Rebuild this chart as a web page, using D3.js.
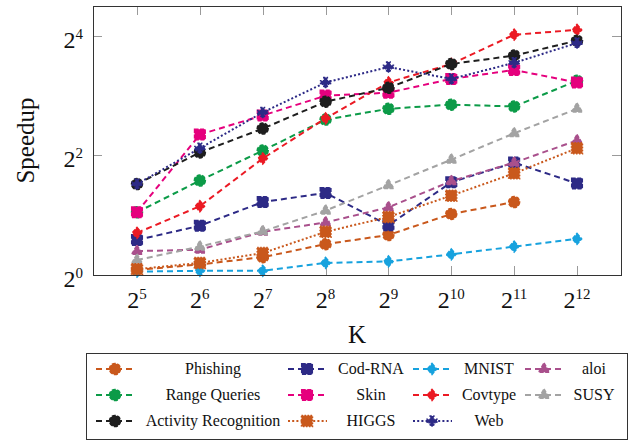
<!DOCTYPE html>
<html>
<head>
<meta charset="utf-8">
<script src="https://cdn.jsdelivr.net/npm/d3@7"></script>
<style>
  body { margin: 0; background: #fff; }
  text { font-family: "Liberation Serif", "Times New Roman", serif; fill: #111; }
</style>
</head>
<body>
<div></div>
<script>
var width = 639;
var height = 440;

// K values (2^5 .. 2^12)
var K = [32, 64, 128, 256, 512, 1024, 2048, 4096];
var xTickExp = [5, 6, 7, 8, 9, 10, 11, 12];
var yTickExp = [0, 2, 4];

// speedup values, one per K
var phishing = [1.06, 1.13, 1.23, 1.43, 1.59, 2.03, 2.33];
var codRna = [1.50, 1.77, 2.33, 2.59, 1.78, 2.93, 3.68, 2.89];
var mnist = [1.04, 1.05, 1.05, 1.15, 1.17, 1.27, 1.39, 1.52];
var aloi = [1.32, 1.34, 1.65, 1.84, 2.19, 2.97, 3.68, 4.76];
var rangeQueries = [2.07, 2.99, 4.23, 6.06, 6.87, 7.21, 7.06, 9.51];
var skin = [2.07, 5.10, 6.36, 8.00, 8.28, 9.71, 10.78, 9.32];
var covtype = [1.63, 2.22, 3.86, 6.15, 9.32, 11.55, 16.22, 17.15];
var susy = [1.19, 1.39, 1.66, 2.11, 2.83, 3.81, 5.17, 6.87];
var activity = [2.87, 4.14, 5.46, 7.46, 8.76, 11.55, 12.73, 15.14];
var higgs = [1.07, 1.15, 1.29, 1.65, 1.96, 2.51, 3.25, 4.35];
var web = [2.87, 4.35, 6.59, 9.32, 11.16, 9.71, 11.71, 14.72];

var orange = '#c9581c', navy = '#2d2a86', cyan = '#17a2de', mauve = '#a9508c',
    green = '#0c9b48', magenta = '#e5007d', red = '#eb1a24', gray = '#a3a3a3', black = '#1e1e1e';

var dashed = '6,4';
var dotted = '2,2.2';

var series = [
    { name: 'Phishing', values: phishing, color: orange, dash: dashed, mark: 'circle' },
    { name: 'Cod-RNA', values: codRna, color: navy, dash: dashed, mark: 'square' },
    { name: 'MNIST', values: mnist, color: cyan, dash: dashed, mark: 'diamond' },
    { name: 'aloi', values: aloi, color: mauve, dash: dashed, mark: 'triangle' },
    { name: 'Range Queries', values: rangeQueries, color: green, dash: dashed, mark: 'circle' },
    { name: 'Skin', values: skin, color: magenta, dash: dashed, mark: 'square' },
    { name: 'Covtype', values: covtype, color: red, dash: dashed, mark: 'diamond' },
    { name: 'SUSY', values: susy, color: gray, dash: dashed, mark: 'triangle' },
    { name: 'Activity Recognition', values: activity, color: black, dash: dashed, mark: 'circle' },
    { name: 'HIGGS', values: higgs, color: orange, dash: dotted, mark: 'blob' },
    { name: 'Web', values: web, color: navy, dash: dotted, mark: 'plus' }
];

var margin = { left: 93, right: 621, top: 6, bottom: 275 };

var svg = d3.select('div')
    .append('svg').attr('width', width).attr('height', height);

var x = d3.scaleLog().base(2)
    .domain([Math.pow(2, 4.3), Math.pow(2, 12.7)])
    .range([margin.left, margin.right]);
var y = d3.scaleLog().base(2)
    .domain([1, Math.pow(2, 4.5)])
    .range([margin.bottom, margin.top]);

function markPath(type) {
    var r;
    if (type === 'circle') {
        r = 5.5;
        return 'M' + r + ',0A' + r + ',' + r + ' 0 1,1 ' + (-r) + ',0A' + r + ',' + r + ' 0 1,1 ' + r + ',0Z';
    }
    if (type === 'square') { r = 5.3; return 'M' + -r + ',' + -r + 'H' + r + 'V' + r + 'H' + -r + 'Z'; }
    if (type === 'blob') { r = 5.5; return 'M' + -r + ',' + -r + 'H' + r + 'V' + r + 'H' + -r + 'Z'; }
    if (type === 'diamond') { r = 5.5; return 'M0,' + -r + 'L' + (r * 0.85) + ',0L0,' + r + 'L' + (-r * 0.85) + ',0Z'; }
    if (type === 'triangle') { r = 6; return 'M0,' + -r + 'L' + (r * 0.9) + ',' + (r * 0.55) + 'L' + (-r * 0.9) + ',' + (r * 0.55) + 'Z'; }
    // plus
    var a = 5, b = 1.8;
    return 'M' + -b + ',' + -a + 'H' + b + 'V' + -b + 'H' + a + 'V' + b + 'H' + b + 'V' + a +
        'H' + -b + 'V' + b + 'H' + -a + 'V' + -b + 'H' + -b + 'Z';
}

// ticks inside the frame
var tickLen = 9;
var ticks = svg.append('g').attr('stroke', '#9a9a9a').attr('stroke-width', 1);
xTickExp.forEach(function (e) {
    var px = Math.round(x(Math.pow(2, e))) + 0.5;
    ticks.append('line').attr('x1', px).attr('x2', px).attr('y1', margin.bottom).attr('y2', margin.bottom - tickLen);
    ticks.append('line').attr('x1', px).attr('x2', px).attr('y1', margin.top).attr('y2', margin.top + tickLen);
});
yTickExp.forEach(function (e) {
    var py = Math.round(y(Math.pow(2, e))) + 0.5;
    ticks.append('line').attr('x1', margin.left).attr('x2', margin.left + tickLen).attr('y1', py).attr('y2', py);
    ticks.append('line').attr('x1', margin.right).attr('x2', margin.right - tickLen).attr('y1', py).attr('y2', py);
});

// tick labels
var xl = svg.append('g').selectAll('text')
    .data(xTickExp)
    .enter()
    .append('text')
    .attr('x', function (d) { return x(Math.pow(2, d)); })
    .attr('y', margin.bottom + 33)
    .attr('text-anchor', 'middle')
    .style('font-size', '24px')
    .text('2');
xl.append('tspan').attr('dy', -9).style('font-size', '15px').text(function (d) { return d; });

var yl = svg.append('g').selectAll('text')
    .data(yTickExp)
    .enter()
    .append('text')
    .attr('x', 83)
    .attr('y', function (d) { return y(Math.pow(2, d)) + 12; })
    .attr('text-anchor', 'end')
    .style('font-size', '24px')
    .text('2');
yl.append('tspan').attr('dy', -9).style('font-size', '15px').text(function (d) { return d; });

// axis titles
svg.append('text')
    .attr('transform', 'translate(34,' + ((margin.top + margin.bottom) / 2) + ') rotate(-90)')
    .attr('text-anchor', 'middle')
    .style('font-size', '25px')
    .text('Speedup');
svg.append('text')
    .attr('x', (margin.left + margin.right) / 2)
    .attr('y', 343)
    .attr('text-anchor', 'middle')
    .style('font-size', '25px')
    .text('K');

// series
var line = d3.line()
    .x(function (d) { return x(d.k); })
    .y(function (d) { return y(d.v); });

var plots = svg.append('g')
    .selectAll('g')
    .data(series)
    .enter()
    .append('g');

plots.append('path')
    .attr('d', function (s) {
        return line(s.values.map(function (v, i) { return { k: K[i], v: v }; }));
    })
    .attr('fill', 'none')
    .attr('stroke', function (s) { return s.color; })
    .attr('stroke-width', 2)
    .attr('stroke-dasharray', function (s) { return s.dash; });

plots.selectAll('path.mark')
    .data(function (s) {
        return s.values.map(function (v, i) { return { k: K[i], v: v, s: s }; });
    })
    .enter()
    .append('path')
    .attr('class', 'mark')
    .attr('transform', function (d) { return 'translate(' + x(d.k) + ',' + y(d.v) + ')'; })
    .attr('d', function (d) { return markPath(d.s.mark); })
    .attr('fill', function (d) { return d.s.color; })
    .attr('stroke', function (d) { return d.s.color; })
    .attr('stroke-width', 1.5)
    .attr('stroke-dasharray', function (d) { return d.s.mark === 'blob' || d.s.mark === 'plus' ? '1.5,1.5' : d.s.dash === dashed ? '4,1.5' : null; });

// frame
svg.append('rect')
    .attr('x', margin.left + 0.5).attr('y', margin.top + 0.5)
    .attr('width', margin.right - margin.left).attr('height', margin.bottom - margin.top)
    .attr('fill', 'none').attr('stroke', '#333').attr('stroke-width', 1);

// legend
var legendCols = [{ sample: 115, text: 213 }, { sample: 307, text: 371 }, { sample: 432, text: 489 }, { sample: 544, text: 594 }];
var legendRows = [369, 395, 421];

svg.append('rect')
    .attr('x', 86.5).attr('y', 353.5).attr('width', 541).attr('height', 86)
    .attr('fill', '#fff').attr('stroke', '#333').attr('stroke-width', 1);

var items = svg.append('g')
    .selectAll('g')
    .data(series)
    .enter()
    .append('g')
    .attr('transform', function (s, i) {
        return 'translate(0,' + legendRows[Math.floor(i / 4)] + ')';
    });

items.append('line')
    .attr('x1', function (s, i) { return legendCols[i % 4].sample - 19; })
    .attr('x2', function (s, i) { return legendCols[i % 4].sample + 20; })
    .attr('stroke', function (s) { return s.color; })
    .attr('stroke-width', 2)
    .attr('stroke-dasharray', function (s) { return s.dash; });

items.append('path')
    .attr('transform', function (s, i) { return 'translate(' + legendCols[i % 4].sample + ',0)'; })
    .attr('d', function (s) { return markPath(s.mark); })
    .attr('fill', function (s) { return s.color; })
    .attr('stroke', function (s) { return s.color; })
    .attr('stroke-width', 1.5)
    .attr('stroke-dasharray', function (s) { return s.mark === 'blob' || s.mark === 'plus' ? '1.5,1.5' : s.dash === dashed ? '4,1.5' : null; });

items.append('text')
    .attr('x', function (s, i) { return legendCols[i % 4].text; })
    .attr('y', 5)
    .attr('text-anchor', 'middle')
    .style('font-size', '16px')
    .text(function (s) { return s.name; });
</script>
</body>
</html>
